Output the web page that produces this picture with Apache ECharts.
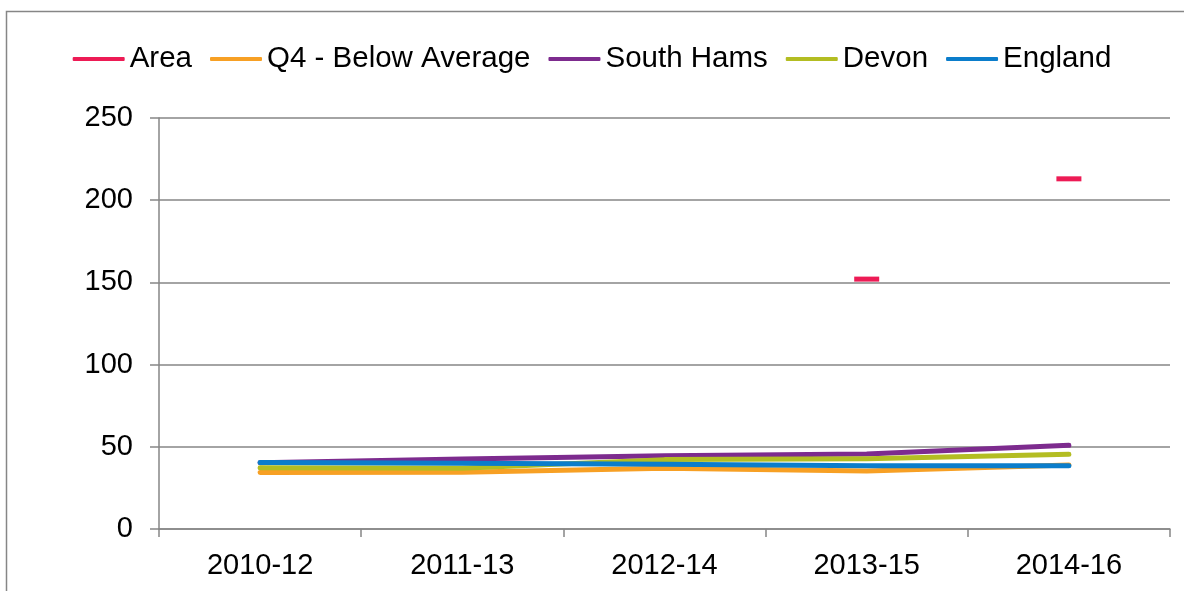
<!DOCTYPE html>
<html>
<head>
<meta charset="utf-8">
<script src="https://cdn.jsdelivr.net/npm/echarts@6/dist/echarts.min.js"></script>
<style>
  html, body { margin: 0; padding: 0; background: #fff; }
  #chart { width: 1184px; height: 591px; }
</style>
</head>
<body>
<div id="chart"></div>
<script>
  // categories
  var periods = ['2010-12', '2011-13', '2012-14', '2013-15', '2014-16'];
  // series values
  var area = [null, null, null, 152, 213];
  var q4Below = [34.3, 34.5, 36.9, 35.3, 39.0];
  var southHams = [40.3, 42.6, 44.5, 45.6, 50.9];
  var devon = [37.3, 36.9, 42.2, 42.8, 45.4];
  var england = [40.5, 40.0, 39.4, 38.5, 38.5];
  var yTicks = [0, 50, 100, 150, 200, 250];

  var font = 'Liberation Sans, Arial, sans-serif';
  var axisGrey = '#868686';

  function lineSeries(name, values, color) {
    return {
      name: name,
      type: 'line',
      data: values,
      symbol: 'none',
      smooth: false,
      itemStyle: { color: color },
      lineStyle: { color: color, width: 5, cap: 'round', join: 'round' },
      emphasis: { disabled: true }
    };
  }

  var myChart = echarts.init(document.getElementById('chart'));
  myChart.setOption({
    animation: false,
    backgroundColor: '#fff',
    graphic: [{
      type: 'rect',
      shape: { x: 6.5, y: 11.5, width: 1200, height: 620 },
      style: { fill: 'none', stroke: axisGrey, lineWidth: 1.5 },
      silent: true
    }],
    legend: {
      left: 'center',
      top: 39,
      icon: 'roundRect',
      itemWidth: 52,
      itemHeight: 4,
      itemGap: 18,
      selectedMode: false,
      textStyle: { fontFamily: font, fontSize: 29.5, color: '#000' },
      data: ['Area', 'Q4 - Below Average', 'South Hams', 'Devon', 'England']
    },
    grid: {
      left: 159,
      right: 14,
      top: 118,
      bottom: 62,
      containLabel: false
    },
    xAxis: {
      type: 'category',
      data: periods,
      boundaryGap: true,
      axisLine: { show: true, lineStyle: { color: axisGrey, width: 1.5 } },
      axisTick: { show: true, length: 8, lineStyle: { color: axisGrey, width: 1.5 } },
      axisLabel: { margin: 22, fontFamily: font, fontSize: 29, color: '#000' },
      splitLine: { show: false }
    },
    yAxis: {
      type: 'value',
      min: yTicks[0],
      max: yTicks[yTicks.length - 1],
      interval: 50,
      axisLine: { show: true, lineStyle: { color: axisGrey, width: 1.5 } },
      axisTick: { show: true, length: 9, lineStyle: { color: axisGrey, width: 1.5 } },
      axisLabel: { margin: 26, fontFamily: font, fontSize: 29, color: '#000' },
      splitLine: { show: true, lineStyle: { color: axisGrey, width: 1.5 } }
    },
    series: [
      {
        name: 'Area',
        type: 'line',
        data: area,
        symbol: 'rect',
        symbolSize: [25, 5],
        showSymbol: true,
        connectNulls: false,
        itemStyle: { color: '#ED1B55' },
        lineStyle: { opacity: 0 },
        emphasis: { disabled: true }
      },
      lineSeries('Q4 - Below Average', q4Below, '#F7A024'),
      lineSeries('South Hams', southHams, '#7D2B8E'),
      lineSeries('Devon', devon, '#B3BD22'),
      lineSeries('England', england, '#0B7DCB')
    ]
  });

  window.addEventListener('resize', function () {
    myChart.resize();
  });
</script>
</body>
</html>
